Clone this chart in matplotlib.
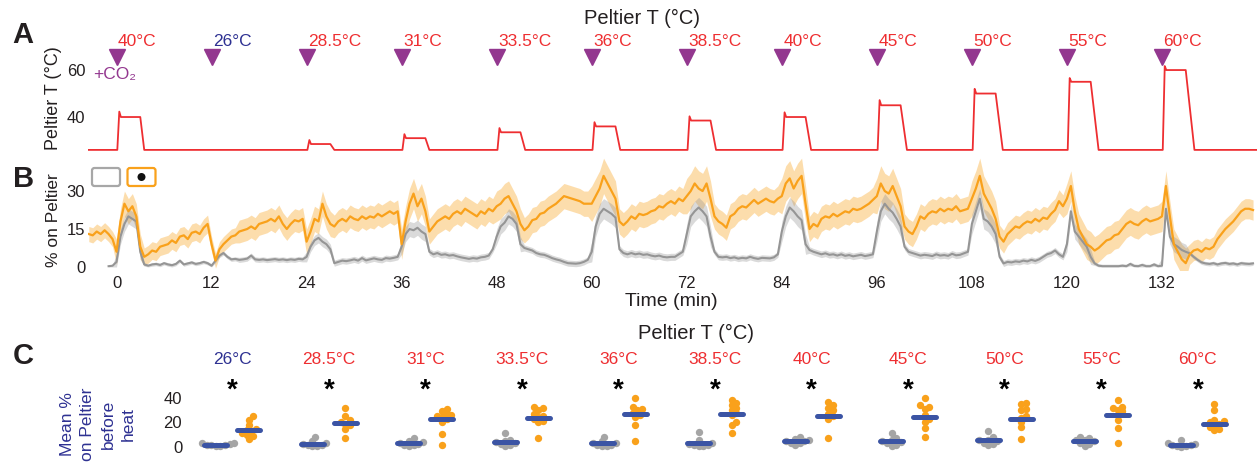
import numpy as np
import matplotlib
matplotlib.use("Agg")
import matplotlib.pyplot as plt
from matplotlib.patches import FancyBboxPatch, Circle
from matplotlib.transforms import IdentityTransform

plt.rcParams["font.family"] = ["Liberation Sans", "DejaVu Sans"]

# ---------------- data ----------------
# Heat pulses delivered by the Peltier (onset in min, set temperature in degC)
pulse_on = [0, 12, 24, 36, 48, 60, 72, 84, 96, 108, 120, 132]
pulse_T = [40, 26, 28.5, 31, 33.5, 36, 38.5, 40, 45, 50, 55, 60]
pulse_overshoot = [2.3, 0, 1.7, 1.7, 1.8, 1.8, 1.8, 2.0, 2.2, 2.0, 1.6, 1.7]
pulse_fall = [0.5, 0, 0.5, 0.5, 0.6, 0.6, 0.7, 0.7, 0.8, 0.9, 1.0, 1.1]
baseline_T = 26

# % of flies on the Peltier, sampled every 0.5 min from -3.5 min
orange_pre = [13, 12.5, 14, 13, 14.5, 13, 11]
orange_cycles = [
    [6, 18, 25, 22, 24, 20, 8, 4, 5, 6.5, 6, 8, 8.5, 9, 10.5, 9.5, 12, 12.5, 11, 13.5, 14, 13, 15.5, 17],
    [9, 2.5, 7, 9, 10.5, 12, 12.5, 14, 14.5, 15, 16, 15, 17, 17.5, 18, 19, 18, 20, 17, 15, 17, 18.5, 18, 19],
    [10, 14, 19, 18, 25, 20, 17, 16, 18, 19, 18, 20, 19, 18.5, 20, 19, 20, 19.5, 21, 20, 21, 22, 21, 22],
    [9, 18, 25, 29, 24, 27, 22, 14, 16, 18, 19, 20, 19, 21, 22, 21, 23, 22, 21, 20, 22, 21, 23, 22],
    [24, 25, 27, 28, 25, 22, 17, 14.5, 16, 18.5, 19, 21, 21.5, 23, 24, 25, 26.5, 28, 27.5, 27, 26.5, 26, 25, 25],
    [25, 28, 31, 36, 33, 30, 27, 18, 16.5, 18, 20, 19, 21, 20.5, 21, 22, 22.5, 24, 23.5, 25, 26, 25, 27, 26],
    [28, 30, 33, 31, 30, 33, 27, 20, 18, 17, 15.5, 20, 21, 23, 24, 23.5, 25, 26.5, 25, 26, 27, 26, 25.5, 27],
    [28, 33, 35, 31, 34, 36, 25, 15, 17, 16, 19, 20, 19.5, 21, 20, 21, 22, 21.5, 23, 22.5, 23, 24, 25, 26.5],
    [28, 33, 30, 29, 32, 28, 24, 16, 14, 13, 16, 20, 19, 21, 22, 21.5, 23, 22, 23, 22.5, 24, 22, 22.5, 23],
    [27, 31, 36, 29, 26, 23, 19, 12, 10, 13, 14.5, 16, 15.5, 17, 18, 17.5, 19, 18, 19.5, 19, 21, 22.5, 26, 24],
    [27, 32, 22, 15, 12, 9, 8, 6.5, 7.5, 9, 10.5, 11, 12.5, 13, 15, 17, 18, 17, 16.5, 18, 19, 18, 18.5, 19],
    [20, 32, 20, 9, 6, 3, 1.5, 5, 6.5, 7, 6, 7.5, 7, 8, 11, 13, 15, 16.5, 18, 20, 22, 23, 23, 22.5],
]
gray_pre = [np.nan, np.nan, np.nan, np.nan, np.nan, 0.3, 0.5]
gray_cycles = [
    [2, 12, 17, 20, 19, 18, 6, 1, 0.5, 1, 1.2, 0.8, 1.5, 1, 0.7, 1.2, 2.5, 1, 1.4, 1.8, 1.2, 1.5, 2, 1.5],
    [0.5, 2.5, 4.5, 5.5, 4, 3, 3.2, 2.8, 3, 3.3, 4.5, 3, 2.8, 3, 2.7, 2.9, 3.1, 2.8, 3, 2.7, 3, 2.8, 3.2, 3],
    [4, 8, 10.5, 11.5, 10, 9, 7, 1.5, 2, 2.5, 2.3, 2.6, 3, 2.5, 3.5, 2.6, 3, 3.4, 3, 2.8, 3.5, 3.3, 3.6, 4],
    [8, 13, 15, 14.5, 15.5, 14, 13, 6, 5, 5.5, 4.8, 5, 4.5, 4.7, 4.2, 3.8, 3.5, 3.2, 3.5, 3.3, 3.8, 4, 4.5, 7],
    [12, 16, 17.5, 20, 19, 17, 9, 7.5, 7, 6.5, 5.5, 5, 4.8, 4.2, 3.5, 3, 2.6, 2, 1.5, 1.4, 1.3, 1.5, 2, 2.8],
    [6, 16, 21, 23, 22, 21, 19.5, 7, 5.5, 5, 5.5, 5, 5.3, 4.8, 5, 4.5, 4.2, 4.5, 4, 3.8, 4, 4, 5, 6],
    [13, 20, 22, 23.5, 22, 20, 12, 6, 4, 3.8, 4, 3.5, 3.8, 3.3, 3.6, 3.4, 4, 3.5, 3.2, 3.6, 3.5, 3.4, 3.8, 5],
    [14, 20, 23.5, 22, 20, 18.5, 9, 6.7, 6, 5.5, 5, 5.4, 4.8, 5, 4.5, 5, 4.4, 4.7, 4.2, 4.5, 4.8, 4.3, 4.6, 5],
    [14, 22, 25, 23, 21.5, 19, 16, 8, 6, 5.5, 5, 4.5, 4.8, 4.6, 4.3, 5, 4.5, 4.7, 4.4, 5.2, 4.6, 4.8, 5.4, 6],
    [17, 22, 27, 19, 18, 16, 13, 4, 1.4, 2, 1.8, 2.2, 2, 2.5, 2.2, 2.8, 2.4, 3, 4, 5, 5.5, 6.5, 5, 4],
    [9, 22, 14, 12, 10, 8, 4, 1.4, 0.5, 0.3, 0.3, 0.3, 0.3, 0.3, 0.5, 0.3, 1.2, 0.4, 0.3, 0.8, 0.3, 0.3, 1, 0.3],
    [0.5, 23, 12, 9, 8, 6.7, 6, 5.4, 4, 2.8, 1.8, 1.4, 1.2, 1.5, 1, 1.4, 1.6, 1.2, 1.4, 1, 1.5, 1.3, 1.2, 1.4],
]
# s.e.m. per phase of each cycle (heat = first 3.5 min, rest = remainder)
orange_sem_pre = 3.0
orange_sem_heat = [5, 3, 5, 6, 6, 7, 7, 7, 7, 7, 6, 6]
orange_sem_rest = [3.5, 4.5, 4.5, 5, 5, 5, 5, 5, 5, 4.5, 5.5, 4]
gray_sem_pre = 0.5
gray_sem_heat = [3, 0.8, 2, 3, 3, 4, 4, 4, 4, 4, 3, 3]
gray_sem_rest = [0.7, 1.0, 1.2, 1.3, 1.2, 1.4, 1.2, 1.3, 1.3, 1.2, 0.8, 0.8]

# Panel C: mean % on Peltier before each heat pulse, per fly group
c_labels = ["26°C", "28.5°C", "31°C", "33.5°C", "36°C", "38.5°C", "40°C", "45°C", "50°C", "55°C", "60°C"]
c_label_is_ref = [True] + [False] * 10
gray_points = [
    [0.5, 1, 1.5, 2, 2, 2.5, 3, 3.5],
    [0.5, 1, 1.5, 2, 2.5, 3, 4.5, 8],
    [1, 1.5, 2, 2.5, 3, 4, 5, 7.5],
    [1, 2, 2.5, 3.5, 4, 5, 6, 11],
    [0.5, 1, 1.5, 2, 3, 3.5, 5, 8.5],
    [0.5, 1, 1.5, 2, 2.5, 3.5, 6, 12],
    [2, 3, 3.5, 4.5, 5, 5.5, 6.5, 8],
    [1, 2, 3, 4, 4.5, 5.5, 7, 11],
    [1.5, 2.5, 3.5, 4.5, 5.5, 6, 8, 13],
    [1, 2.5, 3.5, 4.5, 5.5, 6, 7, 8.5],
    [0.3, 0.5, 1, 1.5, 2, 2.5, 3, 6],
]
orange_points = [
    [25, 22, 18, 15, 14, 13, 11, 10, 9, 6.5],
    [32, 25, 22, 20, 19, 18, 15, 7],
    [31, 29, 27, 26, 25, 24.5, 23, 20, 10.5, 2],
    [33, 32, 30, 27, 25, 24.5, 23, 21, 20, 7],
    [40, 33, 31, 30, 28, 26, 24.5, 18, 5],
    [38, 36, 34, 32, 30, 28, 26, 20, 18, 11],
    [37, 34, 32, 30, 27, 25, 23, 7],
    [40, 34, 33, 31, 26, 23, 20, 15.5, 8],
    [36, 35, 31, 30, 25, 24, 20, 16, 6.5],
    [38, 33, 32, 30, 29, 26, 22, 15.5, 3],
    [35, 30, 22, 21, 20, 19, 18, 16, 15, 14],
]
gray_means = [2, 2.5, 3, 4, 3, 3, 5, 5, 5.7, 5, 2]
orange_means = [14, 19.5, 23, 24, 27, 27, 25, 24.5, 23, 26, 19]

# ---------------- colours ----------------
RED = "#ee2e31"
NAVY = "#2e3192"
PURPLE = "#93378f"
ORANGE = "#f9a11b"
GRAY = "#959595"
BLUE = "#3b54a4"

W, H = 1259, 467
fig = plt.figure(figsize=(W / 100, H / 100), dpi=100)


def box(l, t, r, b):
    return [l / W, 1 - b / H, (r - l) / W, (b - t) / H]


axA = fig.add_axes(box(88, 63, 1257, 154.6))
axB = fig.add_axes(box(88, 149.3, 1257, 270.0))
axC = fig.add_axes(box(185, 395.5, 1250, 453.1))
for ax in (axA, axB, axC):
    ax.set_facecolor("none")
    for s in ax.spines.values():
        s.set_visible(False)
    ax.tick_params(length=0, labelsize=12, colors="#231f20")

XLIM = (-3.6, 144.0)

# ---------------- panel A: Peltier temperature ----------------
temp_t = [XLIM[0]]
temp_v = [baseline_T]
for on, T, os_, fall in zip(pulse_on, pulse_T, pulse_overshoot, pulse_fall):
    if T <= baseline_T:
        continue
    temp_t += [on + 0.1, on + 0.35, on + 0.55, on + 3.0, on + 3.0 + fall]
    temp_v += [baseline_T, T + os_, T, T, baseline_T]
temp_t.append(XLIM[1])
temp_v.append(baseline_T)
axA.plot(temp_t, temp_v, color=RED, lw=1.3)
axA.set_xlim(*XLIM)
axA.set_ylim(24, 63)
axA.set_xticks([])
axA.set_yticks([40, 60])
axA.tick_params(axis="y", pad=2)

axA.plot(pulse_on, [65.6] * len(pulse_on), "v", color=PURPLE, ms=11, clip_on=False)
for on, T in zip(pulse_on, pulse_T):
    col = NAVY if T == baseline_T else RED
    axA.text(on + 0.2, 72, f"{T:g}°C", color=col, fontsize=12.5,
             ha="left", va="center", clip_on=False)

fig.text(642 / W, 1 - 18 / H, "Peltier T (°C)", fontsize=14.5, ha="center", va="center", color="#231f20")
fig.text(93 / W, 1 - 75 / H, "+CO₂", fontsize=12.5, ha="left", va="center", color=PURPLE)
fig.text(53 / W, 1 - 98 / H, "Peltier T (°C)", fontsize=13, rotation=90,
         ha="center", va="center", color="#231f20")

# ---------------- panel B: % on Peltier ----------------
orange = np.array(orange_pre + sum(orange_cycles, []), dtype=float)
gray = np.array(gray_pre + sum(gray_cycles, []), dtype=float)
t = -3.5 + 0.5 * np.arange(orange.size)


def phase_sem(pre, heat, rest, n_pre, n_heat=7, n_cycle=24):
    parts = [np.full(n_pre, pre)]
    for h, r in zip(heat, rest):
        parts.append(np.full(n_heat, h))
        parts.append(np.full(n_cycle - n_heat, r))
    return np.concatenate(parts)


o_sem = phase_sem(orange_sem_pre, orange_sem_heat, orange_sem_rest, len(orange_pre))
g_sem = phase_sem(gray_sem_pre, gray_sem_heat, gray_sem_rest, len(gray_pre))

axB.fill_between(t, orange - o_sem, orange + o_sem, color=ORANGE, alpha=0.36, lw=0)
axB.fill_between(t, np.clip(gray - g_sem, 0, None), gray + g_sem, color=GRAY, alpha=0.35, lw=0)
axB.plot(t, gray, color=GRAY, lw=1.5)
axB.plot(t, orange, color=ORANGE, lw=1.6)
axB.set_xlim(*XLIM)
axB.set_ylim(-1.2, 46.5)
axB.set_yticks([0, 15, 30])
axB.set_xticks(pulse_on)
axB.tick_params(axis="x", pad=4)
axB.tick_params(axis="y", pad=2)

fig.text(671 / W, 1 - 302 / H, "Time (min)", fontsize=14, ha="center", va="center", color="#231f20")
fig.text(54 / W, 1 - 220 / H, "% on Peltier", fontsize=12.5, rotation=90,
         ha="center", va="center", color="#231f20")

# genotype icons
ident = IdentityTransform()
for (x0, ec) in ((92, "#a7a7a7"), (127.5, ORANGE)):
    fig.patches.append(FancyBboxPatch((x0, H - 186), 28, 18,
                                      boxstyle="round,pad=0,rounding_size=2.5",
                                      fc="white", ec=ec, lw=1.6, transform=ident))
fig.patches.append(Circle((141.5, H - 177), 4, fc="#111111", ec="none", transform=ident))

# ---------------- panel C: mean before heat ----------------
XPX, YPX = 96.55, 1.225   # pixels per data unit
DOT = 4.6                 # minimum dot spacing in pixels (dots overlap a little)


def swarm(values):
    vals = np.asarray(values, float)
    cands = [0.0]
    for j in range(1, 30):
        cands += [j * DOT * 0.5, -j * DOT * 0.5]
    placed, offs = [], np.zeros(vals.size)
    for i in np.argsort(vals):
        y = vals[i] * YPX
        for c in cands:
            if all((c - px) ** 2 + (y - py) ** 2 >= DOT ** 2 for px, py in placed):
                break
        placed.append((c, y))
        offs[i] = c / XPX
    return offs


OFF = 0.171
HALF = 0.119
for i in range(len(c_labels)):
    for xc, pts, col in ((i - OFF, gray_points[i], "#a5a5a5"), (i + OFF, orange_points[i], ORANGE)):
        axC.scatter(xc + swarm(pts), pts, s=28, color=col, lw=0, zorder=2, clip_on=False)
    for xc, m in ((i - OFF, gray_means[i]), (i + OFF, orange_means[i])):
        axC.plot([xc - HALF, xc + HALF], [m, m], color=BLUE, lw=3.6,
                 solid_capstyle="round", zorder=3, clip_on=False)
    axC.text(i, 46.0, "*", fontsize=20, fontweight="bold", ha="center", va="center",
             color="black", clip_on=False)
    axC.text(i, 71, c_labels[i], fontsize=12.5, ha="center", va="center",
             color=NAVY if c_label_is_ref[i] else RED, clip_on=False)

axC.text(4.8, 93, "Peltier T (°C)", fontsize=14.5, ha="center", va="center", color="#231f20", clip_on=False)
axC.set_xlim(-0.49, 10.54)
axC.set_ylim(-5, 42)
axC.set_xticks([])
axC.set_yticks([0, 20, 40])
axC.tick_params(axis="y", pad=2)

fig.text(98 / W, 1 - 424 / H, "Mean %\non Peltier\nbefore\nheat", fontsize=12.5, rotation=90,
         ha="center", va="center", multialignment="center", color=NAVY, linespacing=1.45)

# panel letters
for letter, (x, y) in zip("ABC", ((23, 35), (24, 179), (23, 356))):
    fig.text(x / W, 1 - y / H, letter, fontsize=21, fontweight="bold", ha="center", va="center",
             color="#231f20")

fig.savefig("out.png", dpi=100)
